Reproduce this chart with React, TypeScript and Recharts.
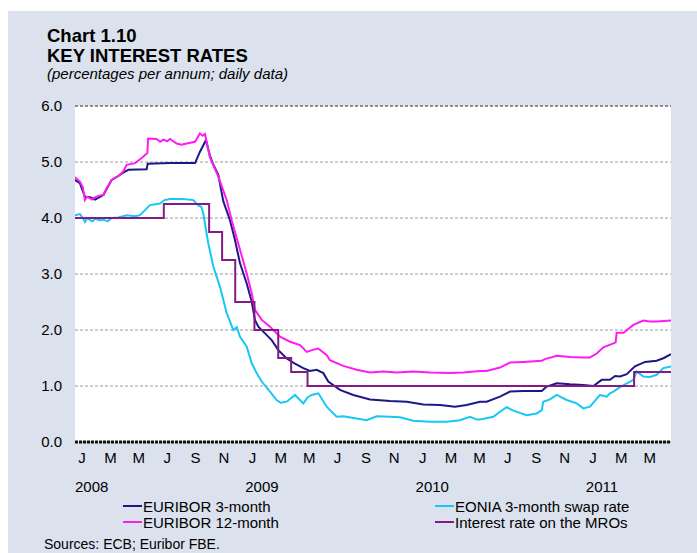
import { LineChart, Line, XAxis, YAxis, CartesianGrid, ReferenceLine } from 'recharts';

// x = months since 1 Jan 2008, y = % per annum
const euribor3m: [number, number][] = [
  [0, 4.68], [0.35, 4.62], [0.7, 4.38], [1.06, 4.37], [1.41, 4.33], [2.0, 4.41], [2.58, 4.68],
  [3.05, 4.75], [3.4, 4.81], [3.76, 4.86], [5.05, 4.87], [5.12, 4.97], [6.7, 4.98], [8.46, 4.98],
  [8.8, 5.18], [9.23, 5.39], [9.5, 5.12], [9.75, 4.95], [10.1, 4.77], [10.45, 4.3], [10.92, 3.96],
  [11.27, 3.61], [11.63, 3.19], [12.1, 2.83], [12.45, 2.51], [12.68, 2.18], [12.92, 2.06],
  [13.39, 1.94], [13.86, 1.82], [14.33, 1.64], [14.92, 1.49], [15.5, 1.4], [16.09, 1.32],
  [16.56, 1.27], [17.03, 1.29], [17.5, 1.23], [17.85, 1.08], [18.67, 0.93], [19.61, 0.84],
  [20.79, 0.76], [22.2, 0.73], [23.38, 0.72], [24.55, 0.67], [25.72, 0.66], [26.78, 0.63],
  [27.6, 0.66], [28.54, 0.72], [29.01, 0.72], [29.95, 0.81], [30.66, 0.9], [31.59, 0.91],
  [32.89, 0.91], [33.24, 0.99], [33.95, 1.05], [34.88, 1.03], [35.82, 1.02], [36.53, 1.0],
  [37.12, 1.11], [37.7, 1.11], [38.06, 1.18], [38.41, 1.17], [38.88, 1.21], [39.46, 1.35],
  [40.17, 1.43], [40.99, 1.45], [41.5, 1.5], [42, 1.57],
];

const euribor12m: [number, number][] = [
  [0, 4.73], [0.35, 4.65], [0.55, 4.55], [0.7, 4.32], [0.85, 4.38], [1.06, 4.35], [1.2, 4.33],
  [1.41, 4.37], [1.7, 4.4], [2.0, 4.41], [2.23, 4.53], [2.58, 4.68], [3.05, 4.75], [3.4, 4.83],
  [3.64, 4.95], [4.23, 4.98], [4.7, 5.07], [5.1, 5.16], [5.15, 5.42], [5.75, 5.41], [6.0, 5.36],
  [6.22, 5.4], [6.5, 5.37], [6.7, 5.41], [7.16, 5.33], [7.5, 5.31], [7.87, 5.33], [8.46, 5.36],
  [8.8, 5.51], [9.0, 5.47], [9.16, 5.5], [9.5, 5.09], [10.1, 4.74], [10.69, 4.32], [11.04, 3.96],
  [11.5, 3.55], [12.1, 3.01], [12.45, 2.66], [12.68, 2.36], [13.16, 2.18], [13.74, 2.06],
  [14.45, 1.88], [15.15, 1.79], [15.86, 1.73], [16.33, 1.61], [16.8, 1.65], [17.15, 1.67],
  [17.74, 1.55], [17.97, 1.46], [18.91, 1.36], [19.85, 1.29], [20.79, 1.24], [21.73, 1.26],
  [22.67, 1.24], [23.84, 1.26], [25.02, 1.24], [26.43, 1.23], [27.36, 1.24], [28.54, 1.27],
  [29.01, 1.27], [29.95, 1.33], [30.66, 1.42], [31.59, 1.43], [32.89, 1.45], [33.12, 1.48],
  [33.95, 1.54], [34.88, 1.52], [35.82, 1.51], [36.29, 1.51], [36.77, 1.58], [37.23, 1.69],
  [37.94, 1.76], [38.1, 1.78], [38.17, 1.95], [38.65, 1.95], [39.35, 2.09], [40.05, 2.17],
  [40.5, 2.15], [40.99, 2.15], [41.5, 2.16], [42, 2.17],
];

const eonia3m: [number, number][] = [
  [0, 4.05], [0.35, 4.07], [0.55, 4.0], [0.7, 3.93], [0.85, 4.0], [1.06, 3.96], [1.25, 3.94],
  [1.41, 3.99], [1.7, 3.96], [2.0, 3.97], [2.3, 3.94], [2.58, 4.0], [3.05, 4.01], [3.64, 4.05],
  [4.23, 4.03], [4.58, 4.05], [4.93, 4.14], [5.28, 4.23], [5.99, 4.26], [6.3, 4.32], [6.7, 4.34],
  [7.63, 4.34], [8.34, 4.32], [8.7, 4.22], [8.9, 4.2], [9.04, 4.08], [9.39, 3.55], [9.75, 3.13],
  [10.22, 2.77], [10.69, 2.3], [11.16, 2.0], [11.4, 2.05], [11.63, 1.88], [12.1, 1.7],
  [12.45, 1.41], [12.8, 1.23], [13.16, 1.08], [13.74, 0.9], [14.21, 0.75], [14.5, 0.7],
  [14.92, 0.72], [15.5, 0.84], [16.09, 0.69], [16.4, 0.8], [16.68, 0.84], [17.15, 0.87],
  [17.74, 0.63], [17.97, 0.57], [18.44, 0.45], [18.91, 0.46], [19.85, 0.42], [20.56, 0.39],
  [21.26, 0.46], [22.2, 0.45], [22.9, 0.44], [23.84, 0.38], [25.02, 0.36], [26.19, 0.36],
  [27.13, 0.39], [27.84, 0.45], [28.31, 0.4], [28.54, 0.4], [29.48, 0.45], [29.95, 0.54],
  [30.42, 0.62], [30.89, 0.56], [31.83, 0.48], [32.54, 0.51], [32.89, 0.57], [33.0, 0.72],
  [33.47, 0.76], [33.95, 0.84], [34.65, 0.75], [35.36, 0.69], [35.82, 0.6], [36.29, 0.63],
  [37.0, 0.84], [37.47, 0.81], [37.7, 0.87], [37.94, 0.9], [38.41, 0.98], [39.35, 1.11],
  [39.58, 1.26], [40.05, 1.17], [40.52, 1.16], [40.99, 1.2], [41.46, 1.32], [42, 1.35],
];

// MRO rate changes
const mroDates = [
  '2008-01-01', '2008-07-09', '2008-10-15', '2008-11-12', '2008-12-10', '2009-01-21',
  '2009-03-11', '2009-04-08', '2009-05-13', '2011-04-13', '2011-07-01',
];
const mroRates = [4.0, 4.25, 3.75, 3.25, 2.5, 2.0, 1.5, 1.25, 1.0, 1.25, 1.25];

const monthTicks = [0.5, 2.5, 4.5, 6.5, 8.5, 10.5, 12.5, 14.5, 16.5, 18.5, 20.5, 22.5, 24.5, 26.5, 28.5, 30.5, 32.5, 34.5, 36.5, 38.5, 40.5];
const monthLetters = ['J', 'M', 'M', 'J', 'S', 'N', 'J', 'M', 'M', 'J', 'S', 'N', 'J', 'M', 'M', 'J', 'S', 'N', 'J', 'M', 'M'];
const yearLabels = ['2008', '2009', '2010', '2011'];
const yTicks = [0, 1, 2, 3, 4, 5, 6];

const FONT = 'Arial, "Liberation Sans", sans-serif';

const W = 697;
const H = 553;
const X_AXIS_H = 45;
const MARGIN = { top: 106, right: 26, bottom: H - 442 - X_AXIS_H, left: 0 };
const Y_AXIS_W = 75;
const X_SPAN = 42;
const monthPx = (W - MARGIN.right - MARGIN.left - Y_AXIS_W) / X_SPAN;

const toMonths = (d: string) => {
  const [y, m, day] = d.split('-').map(Number);
  const dim = new Date(y, m, 0).getDate();
  return (y - 2008) * 12 + (m - 1) + (day - 1) / dim;
};

const pts = (arr: [number, number][]) => arr.map(([m, v]) => ({ m, v }));
const mroData = mroDates.map((d, i) => ({ m: toMonths(d), v: mroRates[i] }));

const series = [
  { name: 'EURIBOR 3-month', color: '#1b1a84', data: pts(euribor3m), type: 'linear' },
  { name: 'EURIBOR 12-month', color: '#ff1cf0', data: pts(euribor12m), type: 'linear' },
  { name: 'EONIA 3-month swap rate', color: '#17c8f5', data: pts(eonia3m), type: 'linear' },
  { name: 'Interest rate on the MROs', color: '#841b84', data: mroData, type: 'stepAfter' },
];

// month letter, plus the year under each January (left-aligned on the year start)
const MonthTick = (props: any) => {
  const { x, y, payload } = props;
  const i = monthTicks.indexOf(payload.value);
  const isJan = Math.floor(payload.value) % 12 === 0;
  return (
    <g>
      <text x={x} y={y} dy={13} textAnchor="middle" fontSize={15} fill="#000" fontFamily={FONT}>
        {monthLetters[i]}
      </text>
      {isJan && (
        <text x={x - monthPx / 2} y={y} dy={42} textAnchor="start" fontSize={15} fill="#000" fontFamily={FONT}>
          {yearLabels[Math.floor(payload.value / 12)]}
        </text>
      )}
    </g>
  );
};

const legendPos = [
  { left: 123, top: 498 },
  { left: 123, top: 514 },
  { left: 435, top: 498 },
  { left: 435, top: 514 },
];

export default function App() {
  return (
    <div style={{ position: 'relative', width: W, height: H, overflow: 'hidden', background: '#fff', fontFamily: FONT }}>
      <style>{'body{margin:0}'}</style>
      <div style={{ position: 'absolute', left: 8, top: 11, width: 689, height: 542, background: '#dbe1ed' }} />
      <div style={{ position: 'absolute', left: 47, top: 26.5, fontSize: 18.5, fontWeight: 'bold', lineHeight: '18px', color: '#000' }}>
        Chart 1.10
      </div>
      <div style={{ position: 'absolute', left: 47, top: 46.5, fontSize: 18.5, fontWeight: 'bold', lineHeight: '18px', color: '#000' }}>
        KEY INTEREST RATES
      </div>
      <div style={{ position: 'absolute', left: 47, top: 66, fontSize: 15, fontStyle: 'italic', lineHeight: '15px', color: '#000' }}>
        (percentages per annum; daily data)
      </div>
      <div style={{ position: 'absolute', left: 0, top: 0 }}>
        <LineChart width={W} height={H} margin={MARGIN}>
          <CartesianGrid vertical={false} fill="#fff" stroke="#9a9a9a" strokeDasharray="3 2" />
          <ReferenceLine y={6} stroke="#555" strokeDasharray="3 2" />
          <XAxis
            dataKey="m"
            type="number"
            domain={[0, X_SPAN]}
            allowDataOverflow
            ticks={monthTicks}
            tick={<MonthTick />}
            tickLine={false}
            axisLine={{ stroke: '#111', strokeWidth: 3, strokeDasharray: '3 1' }}
            height={X_AXIS_H}
            interval={0}
          />
          <YAxis
            type="number"
            domain={[0, 6]}
            ticks={yTicks}
            width={Y_AXIS_W}
            tickLine={false}
            axisLine={false}
            tickSize={0}
            tickMargin={13}
            tickFormatter={(v: number) => v.toFixed(1)}
            tick={{ fontSize: 15, fill: '#000', fontFamily: FONT }}
            interval={0}
          />
          {series.map((s) => (
            <Line
              key={s.name}
              data={s.data}
              dataKey="v"
              type={s.type as any}
              stroke={s.color}
              strokeWidth={2}
              dot={false}
              activeDot={false}
              isAnimationActive={false}
            />
          ))}
        </LineChart>
      </div>
      {series.map((s, i) => (
        <div
          key={s.name}
          style={{ position: 'absolute', left: legendPos[i].left, top: legendPos[i].top, display: 'flex', alignItems: 'center', height: 16, fontSize: 15, color: '#000' }}
        >
          <span style={{ display: 'inline-block', width: 19, height: 2, background: s.color, marginRight: 1 }} />
          <span>{s.name}</span>
        </div>
      ))}
      <div style={{ position: 'absolute', left: 44, top: 537, fontSize: 14, lineHeight: '14px', color: '#000' }}>
        Sources: ECB; Euribor FBE.
      </div>
    </div>
  );
}
